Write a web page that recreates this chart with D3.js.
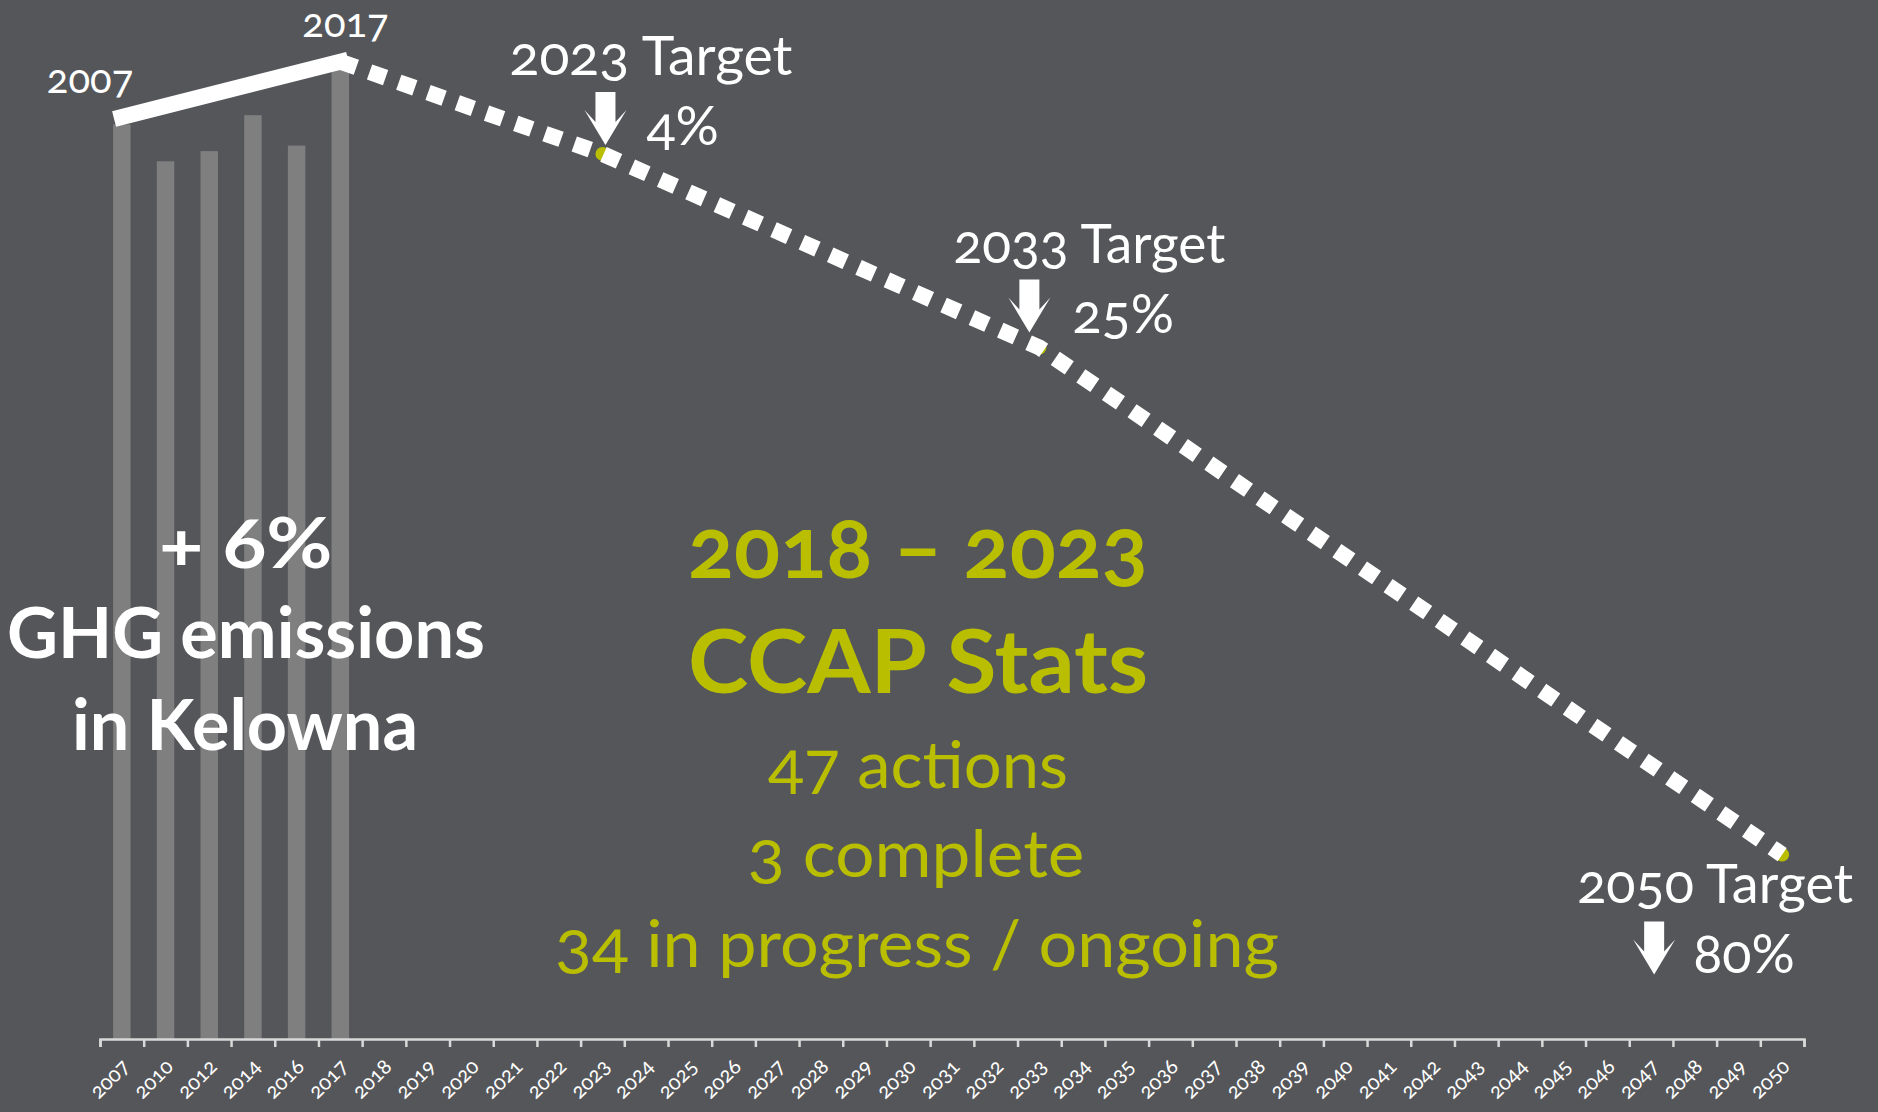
<!DOCTYPE html>
<html>
<head>
<meta charset="utf-8">
<script src="https://cdn.jsdelivr.net/npm/d3@7"></script>
<style>
  body { margin: 0; background: #55565a; }
  svg { display: block; }
  text { font-family: Lato, "Open Sans", sans-serif; font-feature-settings: "onum" 1; }
</style>
</head>
<body>
<div class="chart"></div>
<script>
// categories on the x axis (Excel style, not evenly spaced years at the start)
const years = ["2007", "2010", "2012", "2014", "2016", "2017", "2018", "2019", "2020",
  "2021", "2022", "2023", "2024", "2025", "2026", "2027", "2028", "2029", "2030",
  "2031", "2032", "2033", "2034", "2035", "2036", "2037", "2038", "2039", "2040",
  "2041", "2042", "2043", "2044", "2045", "2046", "2047", "2048", "2049", "2050"];

// community emissions, index (2007 ~ 100)
const barYears = ["2007", "2010", "2012", "2014", "2016", "2017"];
const barValues = [99.2, 95.2, 96.3, 100.2, 96.9, 105.2];

// actual trend 2007 -> 2017
const trendYears = ["2007", "2017"];
const trendValues = [100, 106];

// target path 2017 -> 2050
const targetYears = ["2017", "2023", "2033", "2050"];
const targetValues = [106, 96, 75, 20];
const targetNames = ["2023 Target", "2033 Target", "2050 Target"];
const targetCuts = ["4%", "25%", "80%"];

const w = 1878;
const h = 1112;
const green = "#b9bf00";

const x = d3.scaleBand()
  .domain(years)
  .range([100, 1804])
  .paddingInner(0.6)
  .paddingOuter(0.3);

const xEdge = d3.scaleLinear()
  .domain([0, years.length])
  .range([100, 1804]);

const y = d3.scaleLinear()
  .domain([0, 100])
  .range([1039, 117]);

const cx = d => x(d) + x.bandwidth() / 2;

const svg = d3.select(".chart")
  .append("svg")
  .attr("width", w)
  .attr("height", h)
  .style("background-color", "#55565a");

// bars
svg.selectAll(".bar")
  .data(barYears)
  .join("rect")
  .attr("class", "bar")
  .attr("x", d => x(d))
  .attr("y", (d, i) => y(barValues[i]))
  .attr("width", x.bandwidth())
  .attr("height", (d, i) => y(0) - y(barValues[i]))
  .attr("fill", "#7f7f7f");

// axis: ticks between categories
svg.append("g")
  .attr("transform", `translate(0,${y(0)})`)
  .call(d3.axisBottom(xEdge).tickValues(d3.range(0, years.length + 1)).tickSize(8).tickFormat(""))
  .call(g => g.selectAll("line, path").attr("stroke", "#d9d9d9").attr("stroke-width", 2.5));

svg.append("g")
  .attr("transform", `translate(0,${y(0)})`)
  .call(d3.axisBottom(x).tickSize(0))
  .call(g => g.select(".domain").remove())
  .call(g => g.selectAll("text")
    .attr("x", 0).attr("y", 0).attr("dy", 0)
    .attr("transform", "translate(9,29) rotate(-45)")
    .attr("text-anchor", "end")
    .attr("fill", "#ffffff")
    .style("font-size", "21px")
    .style("font-family", "Lato, 'Open Sans', sans-serif"));

// target markers (under the line)
svg.selectAll(".marker")
  .data(targetYears)
  .join("circle")
  .attr("cx", d => cx(d))
  .attr("cy", (d, i) => y(targetValues[i]))
  .attr("r", 7)
  .attr("fill", green);

const line = d3.line()
  .x(d => cx(d[0]))
  .y(d => y(d[1]));

svg.append("path")
  .datum(trendYears.map((d, i) => [d, trendValues[i]]))
  .attr("d", line)
  .attr("fill", "none")
  .attr("stroke", "#ffffff")
  .attr("stroke-width", 16)
  .attr("stroke-linecap", "square");

svg.append("path")
  .datum(targetYears.map((d, i) => [d, targetValues[i]]))
  .attr("d", line)
  .attr("fill", "none")
  .attr("stroke", "#ffffff")
  .attr("stroke-width", 16)
  .attr("stroke-dasharray", "17 14");

// year labels at the ends of the trend line
const yearLab = [[-75, -24], [-38, -25]];
svg.selectAll(".yearLab")
  .data(trendYears)
  .join("text")
  .attr("x", (d, i) => cx(d) + yearLab[i][0])
  .attr("y", (d, i) => y(trendValues[i]) + yearLab[i][1])
  .attr("fill", "#ffffff")
  .style("font-size", "40px")
  .text(d => d);

// target annotations, offsets from the target point
const anno = [
  { name: [-93, -79, 283], cut: [44, -9], arrow: [3, -9] },
  { name: [-86, -85, 272], cut: [33, -15], arrow: [-10, -15] },
  { name: [-205, 48, 276], cut: [-89, 118], arrow: [-128, 120] }
];
const arrowPath = "M-10,-53L10,-53L10,-23L21,-35L0,0L-21,-35L-10,-23Z";

targetNames.forEach((name, i) => {
  const px = cx(targetYears[i + 1]);
  const py = y(targetValues[i + 1]);
  const a = anno[i];
  svg.append("text")
    .attr("x", px + a.name[0])
    .attr("y", py + a.name[1])
    .attr("textLength", a.name[2])
    .attr("lengthAdjust", "spacingAndGlyphs")
    .attr("fill", "#ffffff")
    .style("font-size", "54px")
    .text(name);
  svg.append("text")
    .attr("x", px + a.cut[0])
    .attr("y", py + a.cut[1])
    .attr("fill", "#ffffff")
    .style("font-size", "54px")
    .text(targetCuts[i]);
  svg.append("path")
    .attr("d", arrowPath)
    .attr("transform", `translate(${px + a.arrow[0]},${py + a.arrow[1]})`)
    .attr("fill", "#ffffff");
});

// text blocks
const blocks = [
  { t: "+ 6%", x: 246, y: 568, len: 173, size: 70, bold: true, fill: "#ffffff" },
  { t: "GHG emissions", x: 246, y: 658, len: 478, size: 70, bold: true, fill: "#ffffff" },
  { t: "in Kelowna", x: 245, y: 750, len: 346, size: 70, bold: true, fill: "#ffffff" },
  { t: "2018 – 2023", x: 918, y: 578, len: 460, size: 84, bold: true, fill: green },
  { t: "CCAP Stats", x: 918, y: 693, len: 460, size: 88, bold: true, fill: green },
  { t: "47 actions", x: 918, y: 788, len: 300, size: 66, bold: false, fill: green },
  { t: "3 complete", x: 916, y: 877, len: 337, size: 66, bold: false, fill: green },
  { t: "34 in progress / ongoing", x: 917, y: 967, len: 724, size: 66, bold: false, fill: green }
];

svg.selectAll(".block")
  .data(blocks)
  .join("text")
  .attr("x", d => d.x - d.len / 2)
  .attr("y", d => d.y)
  .attr("textLength", d => d.len)
  .attr("lengthAdjust", "spacingAndGlyphs")
  .attr("fill", d => d.fill)
  .style("font-size", d => d.size + "px")
  .style("font-weight", d => d.bold ? 700 : 400)
  .text(d => d.t);
</script>
</body>
</html>
